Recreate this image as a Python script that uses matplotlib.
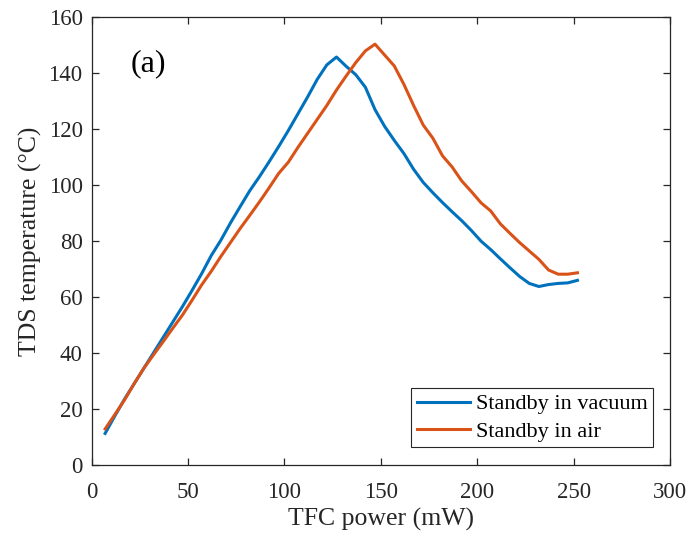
import numpy as np
import matplotlib
matplotlib.use("Agg")
import matplotlib.pyplot as plt

plt.rcParams['font.family'] = ['Liberation Serif', 'DejaVu Serif']

# TFC power (mW)
power = [7, 12, 17, 22, 27, 32, 37, 42, 47, 52,
         57, 62, 67, 72, 77, 82, 87, 92, 97, 102,
         107, 112, 117, 122, 127, 132, 137, 142, 147, 152,
         157, 162, 167, 172, 177, 182, 187, 192, 197, 202,
         207, 212, 217, 222, 227, 232, 237, 242, 247, 252]

# TDS temperature, standby in vacuum
temp_vacuum = [11.3, 17.5, 23.5, 29.0, 34.5, 40.0, 45.5, 51.0, 56.5, 62.3,
               68.3, 74.8, 80.3, 86.5, 92.3, 98.0, 103.0, 108.3, 113.8, 119.5,
               125.5, 131.5, 137.8, 143.0, 145.8, 142.5, 139.5, 135.0, 127.0, 121.0,
               116.0, 111.3, 105.7, 101.0, 97.3, 93.8, 90.5, 87.3, 83.8, 80.0,
               77.0, 73.7, 70.5, 67.4, 64.9, 63.8, 64.5, 64.9, 65.1, 66.0]

# TDS temperature, standby in air
temp_air = [12.9, 18.0, 23.2, 29.0, 34.5, 39.3, 44.0, 48.8, 53.5, 58.8,
            64.3, 69.2, 74.5, 79.5, 84.5, 89.2, 94.0, 99.0, 104.2, 108.2,
            113.5, 118.5, 123.5, 128.5, 134.0, 139.0, 143.8, 148.0, 150.4, 146.5,
            142.6, 136.0, 128.5, 121.5, 116.8, 110.5, 106.5, 101.5, 97.7, 93.7,
            90.8, 86.2, 82.8, 79.5, 76.5, 73.5, 69.7, 68.2, 68.2, 68.7]

fig = plt.figure(figsize=(6.89, 5.37), dpi=100)
ax = fig.add_axes([0.133, 0.134, 0.8394, 0.8338])

ax.plot(power, temp_vacuum, color='#0072BD', lw=2.2, label='Standby in vacuum')
ax.plot(power, temp_air, color='#D95319', lw=2.2, label='Standby in air')

ax.set_xlim(0, 300)
ax.set_ylim(0, 160)
ax.set_xticks(np.arange(0, 301, 50))
ax.set_yticks(np.arange(0, 161, 20))
ax.tick_params(direction='in', top=True, right=True, length=5, width=0.9,
               labelsize=16.5, colors='#262626')
ax.tick_params(axis='x', pad=12)
ax.tick_params(axis='y', pad=6.5)
for s in ax.spines.values():
    s.set_color('#262626')
    s.set_linewidth(0.9)

ax.set_xlabel('TFC power (mW)', fontsize=18.5, color='#262626', labelpad=4)
ax.set_ylabel('TDS temperature (°C)', fontsize=18.5, color='#262626', labelpad=5)

ax.text(20.3, 143.3, '(a)', fontsize=23, va='center', ha='left')

leg = ax.legend(loc='lower right', bbox_to_anchor=(0.9706, 0.040), borderaxespad=0,
                fontsize=16, fancybox=False, edgecolor='#262626', framealpha=1,
                handlelength=2.4, handletextpad=0.25, borderpad=0.25,
                labelspacing=0.3)
leg.get_frame().set_linewidth(0.8)

fig.savefig('out.png', dpi=100)
